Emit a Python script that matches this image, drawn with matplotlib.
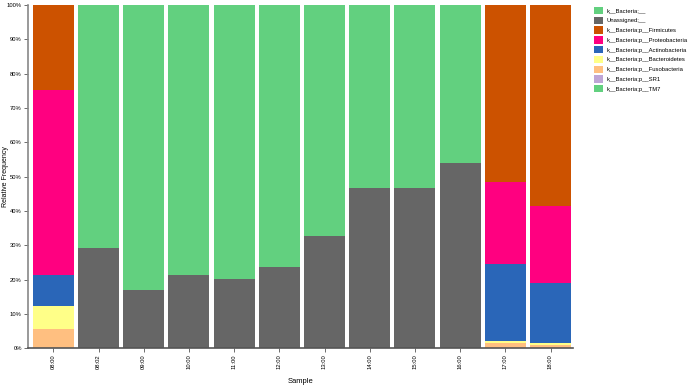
import numpy as np
import matplotlib
matplotlib.use("Agg")
from matplotlib import pyplot as plt
from matplotlib.patches import Patch
from matplotlib.ticker import FuncFormatter

plt.rcParams['font.family'] = ['Liberation Sans', 'DejaVu Sans']

samples = ["08:00", "08:02", "09:00", "10:00", "11:00", "12:00",
           "13:00", "14:00", "15:00", "16:00", "17:00", "18:00"]

# legend order (top to bottom); stacked in reverse order
taxa = ["k__Bacteria;__", "Unassigned;__", "k__Bacteria;p__Firmicutes",
        "k__Bacteria;p__Proteobacteria", "k__Bacteria;p__Actinobacteria",
        "k__Bacteria;p__Bacteroidetes", "k__Bacteria;p__Fusobacteria",
        "k__Bacteria;p__SR1", "k__Bacteria;p__TM7"]
colors = ["#62d07f", "#666666", "#cc5200", "#ff0080", "#2a66b8",
          "#ffff88", "#ffbf80", "#bfa5d6", "#62d07f"]

# percentages per sample
bacteria_none = [0.0, 70.7, 83.1, 78.7, 79.8, 76.4, 67.4, 53.4, 53.3, 46.0, 0.0, 0.0]
unassigned = [0.0, 29.3, 16.9, 21.3, 20.2, 23.6, 32.6, 46.6, 46.7, 54.0, 0.0, 0.0]
firmicutes = [24.7, 0, 0, 0, 0, 0, 0, 0, 0, 0, 51.7, 58.5]
proteobacteria = [53.9, 0, 0, 0, 0, 0, 0, 0, 0, 0, 23.8, 22.5]
actinobacteria = [9.2, 0, 0, 0, 0, 0, 0, 0, 0, 0, 22.5, 17.4]
bacteroidetes = [6.7, 0, 0, 0, 0, 0, 0, 0, 0, 0, 0.6, 0.6]
fusobacteria = [5.5, 0, 0, 0, 0, 0, 0, 0, 0, 0, 1.4, 1.0]
sr1 = [0.0] * 12
tm7 = [0.0] * 12

values = [bacteria_none, unassigned, firmicutes, proteobacteria,
          actinobacteria, bacteroidetes, fusobacteria, sr1, tm7]

fig = plt.figure(figsize=(6.9, 3.86), dpi=100)
ax = fig.add_axes([0.0406, 0.098, 0.79, 0.889])

x = np.arange(len(samples))
bottom = np.zeros(len(samples))
for name, vals, col in reversed(list(zip(taxa, values, colors))):
    vals = np.array(vals, dtype=float)
    ax.bar(x, vals, bottom=bottom, width=0.905, color=col,
           edgecolor="none", linewidth=0)
    bottom += vals

ax.set_xlim(-0.56, 11.5)
ax.set_ylim(0, 100)
ax.set_yticks(np.arange(0, 101, 10))
ax.yaxis.set_major_formatter(FuncFormatter(lambda v, p: "%d%%" % v))
ax.set_xticks(x)
ax.set_xticklabels(samples, rotation=90)
ax.tick_params(axis="both", labelsize=4.2, length=3, width=0.6,
               color="#555555", pad=1.5)
for s in ["top", "right"]:
    ax.spines[s].set_visible(False)
ax.spines["left"].set_color("#888888")
ax.spines["left"].set_linewidth(1.2)
ax.spines["bottom"].set_color("#555555")
ax.spines["bottom"].set_linewidth(1.2)

ax.set_ylabel("Relative Frequency", fontsize=5.0)
ax.yaxis.set_label_coords(-0.034, 0.5)
ax.set_xlabel("Sample", fontsize=5.5, labelpad=6)

handles = [Patch(facecolor=c, edgecolor="none") for c in colors]
fig.legend(handles, taxa, loc="upper left", bbox_to_anchor=(0.857, 0.988),
           frameon=False, fontsize=4.2, handlelength=1.55, handleheight=1.55,
           handletextpad=0.65, labelspacing=0.42, borderaxespad=0)

fig.savefig("out.png", dpi=100)
